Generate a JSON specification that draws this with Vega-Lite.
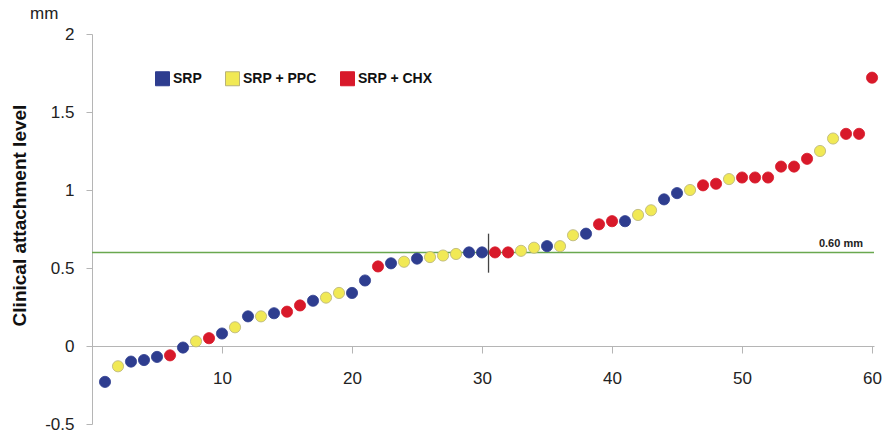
{
  "$schema": "https://vega.github.io/schema/vega-lite/v6.json",
  "width": 782,
  "height": 390,
  "autosize": {"type": "none"},
  "padding": {"left": 92, "top": 34, "right": 8, "bottom": 10},
  "background": "white",
  "config": {
    "font": "Liberation Sans",
    "view": {"stroke": null},
    "axis": {"grid": false, "labelFont": "Liberation Sans", "titleFont": "Liberation Sans"}
  },
  "title": {"text": "mm", "anchor": "start", "frame": "group", "dx": -62, "offset": 2, "fontSize": 17, "fontWeight": "normal", "color": "#222", "font": "Liberation Sans"},
  "datasets": {
    "pts": [
      {"n": 1, "v": -0.23, "g": "SRP"},
      {"n": 2, "v": -0.13, "g": "SRP + PPC"},
      {"n": 3, "v": -0.10, "g": "SRP"},
      {"n": 4, "v": -0.09, "g": "SRP"},
      {"n": 5, "v": -0.07, "g": "SRP"},
      {"n": 6, "v": -0.06, "g": "SRP + CHX"},
      {"n": 7, "v": -0.01, "g": "SRP"},
      {"n": 8, "v": 0.03, "g": "SRP + PPC"},
      {"n": 9, "v": 0.05, "g": "SRP + CHX"},
      {"n": 10, "v": 0.08, "g": "SRP"},
      {"n": 11, "v": 0.12, "g": "SRP + PPC"},
      {"n": 12, "v": 0.19, "g": "SRP"},
      {"n": 13, "v": 0.19, "g": "SRP + PPC"},
      {"n": 14, "v": 0.21, "g": "SRP"},
      {"n": 15, "v": 0.22, "g": "SRP + CHX"},
      {"n": 16, "v": 0.26, "g": "SRP + CHX"},
      {"n": 17, "v": 0.29, "g": "SRP"},
      {"n": 18, "v": 0.31, "g": "SRP + PPC"},
      {"n": 19, "v": 0.34, "g": "SRP + PPC"},
      {"n": 20, "v": 0.34, "g": "SRP"},
      {"n": 21, "v": 0.42, "g": "SRP"},
      {"n": 22, "v": 0.51, "g": "SRP + CHX"},
      {"n": 23, "v": 0.53, "g": "SRP"},
      {"n": 24, "v": 0.54, "g": "SRP + PPC"},
      {"n": 25, "v": 0.56, "g": "SRP"},
      {"n": 26, "v": 0.57, "g": "SRP + PPC"},
      {"n": 27, "v": 0.58, "g": "SRP + PPC"},
      {"n": 28, "v": 0.59, "g": "SRP + PPC"},
      {"n": 29, "v": 0.60, "g": "SRP"},
      {"n": 30, "v": 0.60, "g": "SRP"},
      {"n": 31, "v": 0.60, "g": "SRP + CHX"},
      {"n": 32, "v": 0.60, "g": "SRP + CHX"},
      {"n": 33, "v": 0.61, "g": "SRP + PPC"},
      {"n": 34, "v": 0.63, "g": "SRP + PPC"},
      {"n": 35, "v": 0.64, "g": "SRP"},
      {"n": 36, "v": 0.64, "g": "SRP + PPC"},
      {"n": 37, "v": 0.71, "g": "SRP + PPC"},
      {"n": 38, "v": 0.72, "g": "SRP"},
      {"n": 39, "v": 0.78, "g": "SRP + CHX"},
      {"n": 40, "v": 0.80, "g": "SRP + CHX"},
      {"n": 41, "v": 0.80, "g": "SRP"},
      {"n": 42, "v": 0.84, "g": "SRP + PPC"},
      {"n": 43, "v": 0.87, "g": "SRP + PPC"},
      {"n": 44, "v": 0.94, "g": "SRP"},
      {"n": 45, "v": 0.98, "g": "SRP"},
      {"n": 46, "v": 1.00, "g": "SRP + PPC"},
      {"n": 47, "v": 1.03, "g": "SRP + CHX"},
      {"n": 48, "v": 1.04, "g": "SRP + CHX"},
      {"n": 49, "v": 1.07, "g": "SRP + PPC"},
      {"n": 50, "v": 1.08, "g": "SRP + CHX"},
      {"n": 51, "v": 1.08, "g": "SRP + CHX"},
      {"n": 52, "v": 1.08, "g": "SRP + CHX"},
      {"n": 53, "v": 1.15, "g": "SRP + CHX"},
      {"n": 54, "v": 1.15, "g": "SRP + CHX"},
      {"n": 55, "v": 1.20, "g": "SRP + CHX"},
      {"n": 56, "v": 1.25, "g": "SRP + PPC"},
      {"n": 57, "v": 1.33, "g": "SRP + PPC"},
      {"n": 58, "v": 1.36, "g": "SRP + CHX"},
      {"n": 59, "v": 1.36, "g": "SRP + CHX"},
      {"n": 60, "v": 1.72, "g": "SRP + CHX"}
    ]
  },
  "layer": [
    {
      "data": {"values": [{"y": 0.6}]},
      "mark": {"type": "rule", "color": "#6aa84f", "strokeWidth": 1.5},
      "encoding": {
        "y": {"field": "y", "type": "quantitative", "scale": {"domain": [-0.5, 2]}}
      }
    },
    {
      "data": {"values": [{"x": 30.5, "y1": 0.47, "y2": 0.72}]},
      "mark": {"type": "rule", "color": "#444", "strokeWidth": 1.3},
      "encoding": {
        "x": {"field": "x", "type": "quantitative"},
        "y": {"field": "y1", "type": "quantitative"},
        "y2": {"field": "y2"}
      }
    },
    {
      "data": {"name": "pts"},
      "mark": {"type": "circle", "size": 125, "opacity": 1, "strokeWidth": 0.8},
      "encoding": {
        "x": {
          "field": "n", "type": "quantitative",
          "scale": {"domain": [0, 60.15], "nice": false, "zero": false},
          "axis": {
            "values": [10, 20, 30, 40, 50, 60], "title": null, "offset": -78,
            "domainColor": "#b5b5b5", "tickColor": "#b5b5b5", "tickSize": 7,
            "labelFontSize": 17, "labelColor": "#222", "labelPadding": 17, "labelFlush": false
          }
        },
        "y": {
          "field": "v", "type": "quantitative",
          "scale": {"domain": [-0.5, 2], "nice": false, "zero": false},
          "axis": {
            "values": [-0.5, 0, 0.5, 1, 1.5, 2],
            "labelExpr": "replace(format(datum.value, '~g'), '\u2212', '-')",
            "title": "Clinical attachment level", "titleFontSize": 19, "titleFontWeight": "bold",
            "titleColor": "#111", "titleY": 181, "titlePadding": 15,
            "domainColor": "#b5b5b5", "tickColor": "#b5b5b5", "tickSize": 6,
            "labelFontSize": 17, "labelColor": "#222", "labelPadding": 12
          }
        },
        "fill": {
          "field": "g", "type": "nominal",
          "scale": {"domain": ["SRP", "SRP + PPC", "SRP + CHX"], "range": ["#2e3d8f", "#f1e955", "#d8192a"]},
          "legend": {
            "title": null, "orient": "none", "legendX": 63, "legendY": 37, "direction": "horizontal",
            "symbolType": "square", "symbolSize": 196, "symbolStrokeColor": "#555", "symbolStrokeWidth": 1,
            "labelFontSize": 14, "labelFontWeight": "bold", "labelColor": "#111", "labelOffset": 3,
            "columnPadding": 21, "symbolOpacity": 1
          }
        },
        "stroke": {
          "field": "g", "type": "nominal",
          "scale": {"domain": ["SRP", "SRP + PPC", "SRP + CHX"], "range": ["#2e3d8f", "#b8b27a", "#d8192a"]},
          "legend": null
        }
      }
    },
    {
      "data": {"values": [{"x": 59.3, "y": 0.6, "t": "0.60 mm"}]},
      "mark": {"type": "text", "align": "right", "baseline": "alphabetic", "dy": -5, "fontSize": 11, "fontWeight": "bold", "color": "#222"},
      "encoding": {
        "x": {"field": "x", "type": "quantitative"},
        "y": {"field": "y", "type": "quantitative"},
        "text": {"field": "t"}
      }
    }
  ]
}
